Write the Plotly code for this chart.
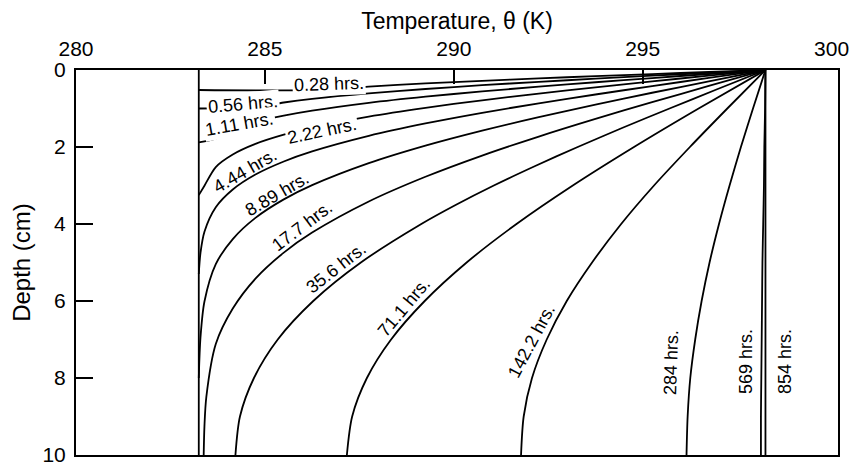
import plotly.graph_objects as go

# ---------------- data ----------------
# initial profile (t = 0)
temp_init = [283.25, 283.25]
depth_init = [0.0, 10.0]

temp_028 = [298.25, 296.75, 295.25, 293.75, 292.25, 290.75, 289.25, 287.75, 286.4, 283.25]
depth_028 = [0.0, 0.052, 0.105, 0.160, 0.217, 0.280, 0.349, 0.430, 0.52, 0.52]

temp_056 = [298.25, 296.75, 295.25, 293.75, 292.25, 290.75, 289.25, 287.75, 286.25, 285.5, 284.75, 283.25]
depth_056 = [0.0, 0.074, 0.148, 0.226, 0.307, 0.395, 0.493, 0.608, 0.751, 0.844, 0.964, 1.0]

temp_111 = [298.25, 296.75, 295.25, 293.75, 292.25, 290.75, 289.25, 287.75, 286.25, 285.5, 284.75, 284.15, 283.70, 283.25]
depth_111 = [0.0, 0.104, 0.209, 0.318, 0.433, 0.557, 0.694, 0.855, 1.058, 1.188, 1.357, 1.552, 1.78, 1.88]

temp_222 = [298.25, 296.75, 295.25, 293.75, 292.25, 290.75, 289.25, 287.75, 286.25, 285.5, 284.75, 284.15, 283.70, 283.40, 283.25]
depth_222 = [0.0, 0.147, 0.296, 0.450, 0.612, 0.787, 0.982, 1.209, 1.495, 1.680, 1.919, 2.194, 2.520, 3.005, 3.25]

temp_444 = [298.25, 296.75, 295.25, 293.75, 292.25, 290.75, 289.25, 287.75, 286.25, 285.5, 284.75, 284.15, 283.70, 283.40, 283.295, 283.25]
depth_444 = [0.0, 0.207, 0.418, 0.636, 0.865, 1.113, 1.389, 1.711, 2.115, 2.376, 2.715, 3.104, 3.565, 4.20, 4.75, 5.3]

temp_889 = [298.25, 296.75, 295.25, 293.75, 292.25, 290.75, 289.25, 287.75, 286.25, 285.5, 284.75, 284.15, 283.70, 283.40, 283.295, 283.25]
depth_889 = [0.0, 0.294, 0.591, 0.900, 1.224, 1.575, 1.965, 2.420, 2.992, 3.361, 3.841, 4.391, 5.044, 6.014, 6.949, 8.0]

temp_177 = [298.25, 296.75, 295.25, 293.75, 292.25, 290.75, 289.25, 287.75, 286.25, 285.5, 284.75, 284.15, 283.70, 283.45, 283.40, 283.38]
depth_177 = [0.0, 0.414, 0.835, 1.270, 1.728, 2.222, 2.773, 3.415, 4.223, 4.743, 5.420, 6.197, 7.118, 8.488, 9.25, 10.0]

depth_grid = [0, 0.5, 1, 1.5, 2, 2.5, 3, 3.5, 4, 5, 6, 7, 8, 9, 10]
temp_356 = [298.25, 296.97, 295.71, 294.47, 293.28, 292.14, 291.06, 290.06, 289.14,
            287.54, 286.28, 285.34, 284.71, 284.34, 284.22]

depth_cm = [0, 1, 2, 3, 4, 5, 6, 7, 8, 9, 10]
temp_711 = [298.25, 296.48, 294.77, 293.15, 291.66, 290.34, 289.23, 288.34, 287.70, 287.31, 287.17]
temp_1422 = [298.25, 297.24, 296.25, 295.30, 294.43, 293.66, 292.99, 292.46, 292.07, 291.85, 291.78]
temp_284 = [298.25, 297.92, 297.60, 297.30, 297.02, 296.77, 296.56, 296.39, 296.26, 296.19, 296.16]
temp_569 = [298.25, 298.24, 298.22, 298.21, 298.19, 298.17, 298.16, 298.15, 298.14, 298.13, 298.13]
temp_854 = [298.25, 298.25, 298.25, 298.25, 298.25, 298.25, 298.25, 298.25, 298.25, 298.25, 298.25]

series = [
    ("0.28 hrs.", temp_028, depth_028),
    ("0.56 hrs.", temp_056, depth_056),
    ("1.11 hrs.", temp_111, depth_111),
    ("2.22 hrs.", temp_222, depth_222),
    ("4.44 hrs.", temp_444, depth_444),
    ("8.89 hrs.", temp_889, depth_889),
    ("17.7 hrs.", temp_177, depth_177),
    ("35.6 hrs.", temp_356, depth_grid),
    ("71.1 hrs.", temp_711, depth_cm),
    ("142.2 hrs.", temp_1422, depth_cm),
    ("284 hrs.", temp_284, depth_cm),
    ("569 hrs.", temp_569, depth_cm),
    ("854 hrs.", temp_854, depth_cm),
]

# curve labels: placement along the curves
label_text = [s[0] for s in series]
label_T = [286.69, 284.43, 284.34, 286.50, 284.47, 285.33, 285.99, 286.88, 288.69, 292.05, 295.75, 297.75, 298.78]
label_depth = [0.36, 0.89, 1.40, 1.58, 2.62, 3.22, 4.05, 5.14, 6.16, 7.03, 7.61, 7.57, 7.57]
label_angle = [-2, -5, -10, -12, -30, -30, -37, -38, -50, -62, -88, -90, -90]
label_breaks_line = [True, True, True, True, False, False, False, False, False, False, False, False, False]

x_ticks = [280, 285, 290, 295, 300]
x_inner_ticks = [285, 290, 295]
y_ticks = [0, 2, 4, 6, 8, 10]

FONT = "Liberation Sans, Arial, Helvetica, sans-serif"
LW = 1.8

fig = go.Figure()

fig.add_trace(go.Scatter(x=temp_init, y=depth_init, mode="lines", xaxis="x2",
                         line=dict(color="black", width=LW), hoverinfo="skip",
                         showlegend=False))

for name, tt, dd in series:
    fig.add_trace(go.Scatter(x=tt, y=dd, mode="lines", name=name,
                             line=dict(color="black", width=LW, shape="spline", smoothing=0.8),
                             showlegend=False))

annotations = []
for txt, tx, ty, ang, brk in zip(label_text, label_T, label_depth, label_angle, label_breaks_line):
    annotations.append(dict(
        x=tx, y=ty, xref="x", yref="y", text=txt, showarrow=False,
        textangle=ang, font=dict(family=FONT, size=18, color="black"),
        bgcolor="white" if brk else "rgba(0,0,0,0)", borderpad=1,
        xanchor="center", yanchor="middle"))

# the page body adds an 8 px offset, so the figure is 8 px smaller each way
fig.update_layout(
    width=850, height=461,
    margin=dict(l=68, r=20, t=62, b=14),
    paper_bgcolor="white", plot_bgcolor="white",
    font=dict(family=FONT, color="black"),
    annotations=annotations,
    xaxis=dict(range=[280, 300.17], side="top", tickvals=x_ticks,
               ticks="", showgrid=False, zeroline=False, automargin=False,
               showline=True, mirror=True, linecolor="black", linewidth=2,
               tickfont=dict(size=21), ticklabelstandoff=4,
               title=dict(text="Temperature, θ (K)", font=dict(size=23), standoff=10)),
    xaxis2=dict(range=[280, 300.17], overlaying="x", side="top", anchor="y",
                tickvals=x_inner_ticks, ticks="inside", ticklen=14, tickwidth=1.8,
                tickcolor="black", showticklabels=False, showgrid=False, automargin=False,
                zeroline=False, showline=False),
    yaxis=dict(range=[10, 0], tickvals=y_ticks, ticks="inside", ticklen=17,
               tickwidth=1.8, tickcolor="black", showgrid=False, zeroline=False,
               showline=True, mirror=True, linecolor="black", linewidth=2,
               tickfont=dict(size=21), ticklabelstandoff=4, automargin=False,
               title=dict(text="Depth (cm)", font=dict(size=24), standoff=10)),
)

fig.write_html("out.html")
